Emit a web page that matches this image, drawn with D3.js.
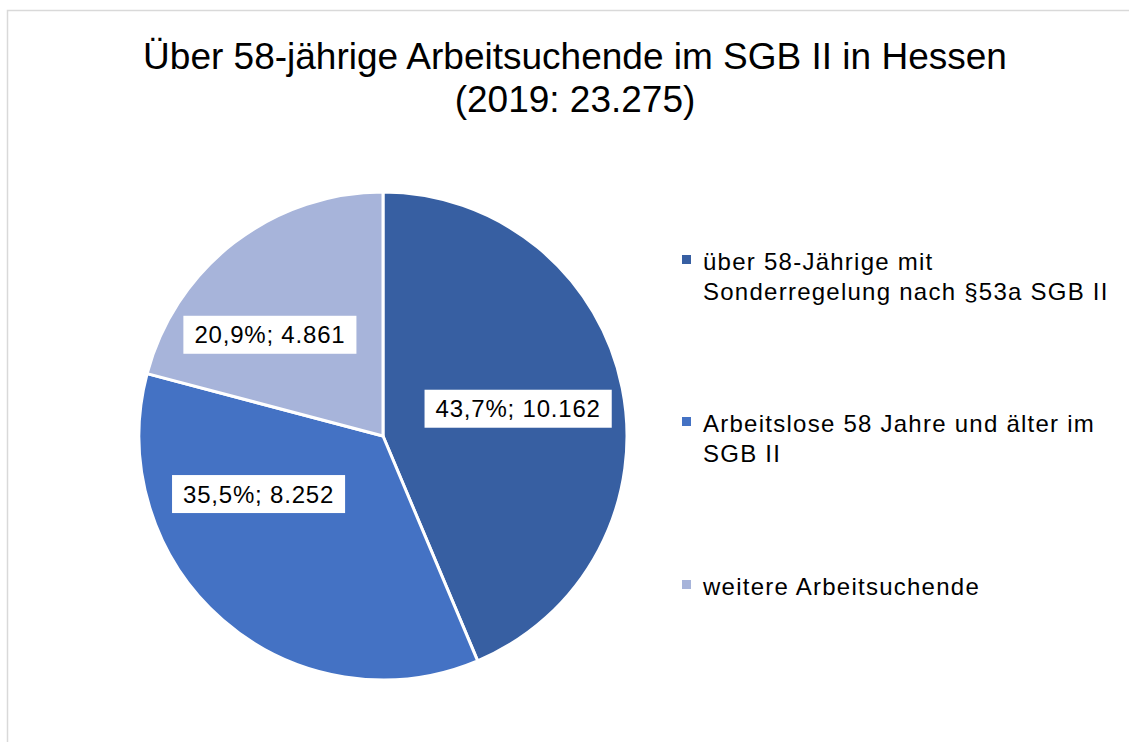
<!DOCTYPE html>
<html lang="de">
<head>
    <meta charset="UTF-8">
    <title>Über 58-jährige Arbeitsuchende im SGB II in Hessen</title>
    <script src="https://cdnjs.cloudflare.com/ajax/libs/d3/7.8.5/d3.min.js"></script>
    <style>
        body { margin: 0; background: #fff; }
        svg { display: block; font-family: "Liberation Sans", Arial, sans-serif; }
    </style>
</head>
<body>
    <div id="wrapper"></div>
    <script>
        // data
        const categories = [
            'über 58-Jährige mit Sonderregelung nach §53a SGB II',
            'Arbeitslose 58 Jahre und älter im SGB II',
            'weitere Arbeitsuchende'
        ]
        const values = [10162, 8252, 4861]
        const shares = ['43,7%', '35,5%', '20,9%']
        const valueLabels = ['10.162', '8.252', '4.861']
        const legendLines = [
            ['über 58-Jährige mit', 'Sonderregelung nach §53a SGB II'],
            ['Arbeitslose 58 Jahre und älter im', 'SGB II'],
            ['weitere Arbeitsuchende']
        ]
        const titleLines = ['Über 58-jährige Arbeitsuchende im SGB II in Hessen', '(2019: 23.275)']

        const colors = ['#375FA2', '#4472C4', '#A7B4DA']

        // dimensions
        const width = 1129
        const height = 742
        const center = { x: 383, y: 436 }
        const radius = 244

        const svg = d3.select('#wrapper')
            .append('svg')
                .attr('width', width)
                .attr('height', height)

        // chart frame
        svg.append('rect')
            .attr('x', 7.5)
            .attr('y', 10.5)
            .attr('width', width)
            .attr('height', height)
            .attr('fill', 'none')
            .attr('stroke', '#d9d9d9')
            .attr('stroke-width', 1.5)

        // title
        svg.append('text')
            .attr('text-anchor', 'middle')
            .attr('font-size', 37)
            .attr('fill', '#000')
            .selectAll('tspan')
            .data(titleLines)
            .join('tspan')
                .attr('x', 575)
                .attr('y', (d, i) => 69 + i * 43)
                .text(d => d)

        // pie
        const pie = d3.pie().sort(null).value(d => d)
        const arcs = pie(values)
        const arc = d3.arc().innerRadius(0).outerRadius(radius)

        const bounds = svg.append('g')
            .attr('transform', `translate(${center.x},${center.y})`)

        bounds.selectAll('path')
            .data(arcs)
            .join('path')
                .attr('d', arc)
                .attr('fill', (d, i) => colors[i])
                .attr('stroke', '#fff')
                .attr('stroke-width', 3)
                .attr('stroke-linejoin', 'round')

        // data labels (excel "best fit" moves the two left ones a bit)
        const labelArc = d3.arc().innerRadius(radius * 0.565).outerRadius(radius * 0.565)
        const labelNudge = [[0, 0], [-34, -46], [-29, 8]]

        const labels = bounds.selectAll('g.label')
            .data(arcs)
            .join('g')
                .attr('class', 'label')
                .attr('transform', (d, i) => {
                    const [x, y] = labelArc.centroid(d)
                    return `translate(${x + labelNudge[i][0]},${y + labelNudge[i][1]})`
                })

        labels.append('text')
            .attr('text-anchor', 'middle')
            .attr('dy', '0.36em')
            .attr('font-size', 24)
            .attr('letter-spacing', 0.8)
            .attr('fill', '#000')
            .text((d, i) => `${shares[i]}; ${valueLabels[i]}`)

        labels.each(function() {
            const g = d3.select(this)
            const box = g.select('text').node().getBBox()
            g.insert('rect', 'text')
                .attr('x', box.x - 11)
                .attr('y', -19)
                .attr('width', box.width + 22)
                .attr('height', 38)
                .attr('fill', '#fff')
        })

        // legend
        const legend = svg.append('g')
            .attr('transform', 'translate(682,0)')

        const legendTop = [270, 432, 595]
        const items = legend.selectAll('g')
            .data(legendLines)
            .join('g')
                .attr('transform', (d, i) => `translate(0,${legendTop[i]})`)

        items.append('rect')
            .attr('x', 0)
            .attr('y', -15)
            .attr('width', 9)
            .attr('height', 9)
            .attr('fill', (d, i) => colors[i])

        items.append('text')
            .attr('font-size', 24)
            .attr('letter-spacing', 1.25)
            .attr('fill', '#000')
            .selectAll('tspan')
            .data(d => d)
            .join('tspan')
                .attr('x', 21)
                .attr('y', (d, i) => i * 30)
                .text(d => d)
    </script>
</body>
</html>
